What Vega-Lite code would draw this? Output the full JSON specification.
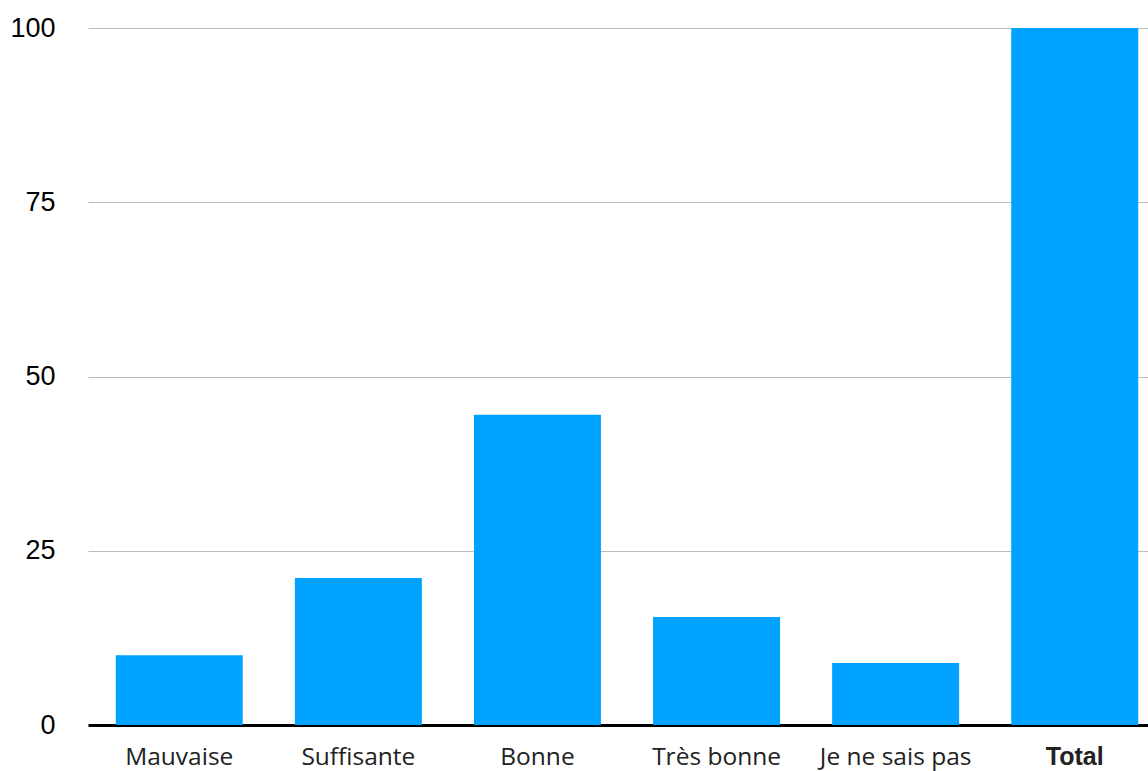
{
  "$schema": "https://vega.github.io/schema/vega-lite/v6.json",
  "autosize": {"type": "none"},
  "width": 1078,
  "height": 697,
  "padding": {"left": 88, "top": 28, "right": 0, "bottom": 46},
  "background": "white",
  "config": {"view": {"stroke": null}},
  "data": {
    "values": [
      {"categorie": "Mauvaise", "valeur": 10},
      {"categorie": "Suffisante", "valeur": 21.1},
      {"categorie": "Bonne", "valeur": 44.5},
      {"categorie": "Très bonne", "valeur": 15.5},
      {"categorie": "Je ne sais pas", "valeur": 8.9},
      {"categorie": "Total", "valeur": 100}
    ]
  },
  "mark": {"type": "bar", "color": "#00A2FF"},
  "encoding": {
    "x": {
      "field": "categorie",
      "type": "nominal",
      "sort": null,
      "scale": {"paddingInner": 0.291, "paddingOuter": 0.155},
      "axis": {
        "title": null,
        "ticks": false,
        "labelAngle": 0,
        "domainColor": "black",
        "domainWidth": 3,
        "labelBaseline": "alphabetic",
        "labelPadding": 39,
        "labelColor": "#222222",
        "labelFont": {"condition": {"test": "datum.value === 'Total'", "value": "Liberation Sans"}, "value": "Open Sans"},
        "labelFontSize": {"condition": {"test": "datum.value === 'Total'", "value": 25}, "value": 24.5},
        "labelFontWeight": {"condition": {"test": "datum.value === 'Total'", "value": "bold"}, "value": "normal"}
      }
    },
    "y": {
      "field": "valeur",
      "type": "quantitative",
      "scale": {"domain": [0, 100], "nice": false},
      "axis": {
        "title": null,
        "values": [0, 25, 50, 75, 100],
        "ticks": false,
        "domain": false,
        "gridColor": "#bbbbbb",
        "gridWidth": 1.2,
        "labelFont": "Liberation Sans",
        "labelFontSize": 27,
        "labelColor": "black",
        "labelPadding": 33
      }
    }
  }
}
